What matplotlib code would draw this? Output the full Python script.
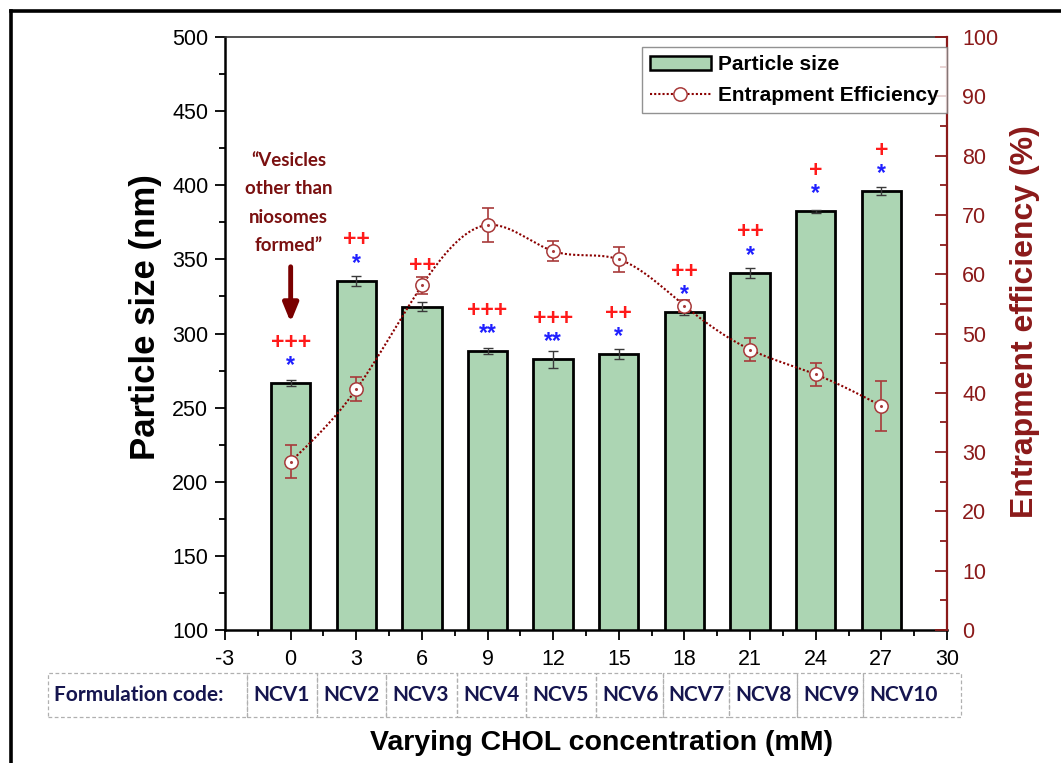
import numpy as np
import matplotlib
matplotlib.use("Agg")
import matplotlib.pyplot as plt
from matplotlib.patches import Rectangle
from matplotlib.lines import Line2D
from matplotlib import transforms
from matplotlib.ticker import MultipleLocator

plt.rcParams["font.family"] = ["Liberation Sans", "DejaVu Sans"]
plt.rcParams["axes.unicode_minus"] = False

# CHOL concentration (mM) for each formulation
chol = [0, 3, 6, 9, 12, 15, 18, 21, 24, 27]
codes = ["NCV1", "NCV2", "NCV3", "NCV4", "NCV5", "NCV6", "NCV7", "NCV8", "NCV9", "NCV10"]

size_nm = [266.5, 335.6, 318.2, 288.3, 282.7, 286.3, 314.5, 341.0, 382.5, 396.0]
size_err = [2.0, 3.5, 3.0, 2.0, 5.7, 3.5, 2.0, 3.4, 1.0, 2.8]

ee_pct = [28.4, 40.6, 58.1, 68.3, 63.9, 62.5, 54.7, 47.3, 43.1, 37.8]
ee_err = [2.8, 2.0, 1.4, 2.8, 1.7, 2.1, 1.0, 2.0, 1.9, 4.2]

plus_marks = ["+++", "++", "++", "+++", "+++", "++", "++", "++", "+", "+"]
star_marks = ["*", "*", "", "**", "**", "*", "*", "*", "*", "*"]

GREEN = "#acd5b3"
DARKRED = "#8b1a1a"
EE_RED = "#a83a3a"
NAVY = "#15154f"


def natural_spline(x, y, n=300):
    # natural cubic spline through the points, for the smoothed connector
    x = np.asarray(x, float)
    y = np.asarray(y, float)
    k = len(x)
    h = np.diff(x)
    A = np.zeros((k, k))
    b = np.zeros(k)
    A[0, 0] = A[-1, -1] = 1.0
    for i in range(1, k - 1):
        A[i, i - 1] = h[i - 1]
        A[i, i] = 2 * (h[i - 1] + h[i])
        A[i, i + 1] = h[i]
        b[i] = 6 * ((y[i + 1] - y[i]) / h[i] - (y[i] - y[i - 1]) / h[i - 1])
    M = np.linalg.solve(A, b)
    xs = np.linspace(x[0], x[-1], n)
    idx = np.clip(np.searchsorted(x, xs) - 1, 0, k - 2)
    x0, x1 = x[idx], x[idx + 1]
    hh = x1 - x0
    t0, t1 = x1 - xs, xs - x0
    ys = (M[idx] * t0 ** 3 + M[idx + 1] * t1 ** 3) / (6 * hh) \
        + (y[idx] / hh - M[idx] * hh / 6) * t0 \
        + (y[idx + 1] / hh - M[idx + 1] * hh / 6) * t1
    return xs, ys


fig = plt.figure(figsize=(10.61, 7.63), dpi=100)
ax = fig.add_axes([0.2121, 0.1743, 0.6804, 0.7772])
ax2 = ax.twinx()

# bars: particle size
ax.bar(chol, size_nm, width=1.8, color=GREEN, edgecolor="black", linewidth=2.0,
       zorder=2, label="Particle size")
ax.errorbar(chol, size_nm, yerr=size_err, fmt="none", ecolor="#3a3a3a",
            elinewidth=1.0, capsize=3.6, capthick=1.0, zorder=3)

# significance marks above each bar
for x, y, p, s in zip(chol, size_nm, plus_marks, star_marks):
    ax.annotate(p, (x, y), xytext=(0, 24.7), textcoords="offset points",
                ha="center", va="baseline", color="#ff1a1a", fontsize=16.5,
                fontweight="bold", zorder=4)
    if s:
        ax.annotate(s, (x, y), xytext=(0, 7.7), textcoords="offset points",
                    ha="center", va="baseline", color="#2020ff", fontsize=16.5,
                    fontweight="bold", zorder=4)

ax.set_xlim(-3, 30)
ax.set_ylim(100, 500)
ax.xaxis.set_major_locator(MultipleLocator(3))
ax.xaxis.set_minor_locator(MultipleLocator(1.5))
ax.yaxis.set_major_locator(MultipleLocator(50))
ax.yaxis.set_minor_locator(MultipleLocator(25))
ax.tick_params(axis="both", which="major", direction="out", length=7, width=1.3,
               labelsize=15.5, pad=5)
ax.tick_params(axis="x", which="major", pad=7)
ax.tick_params(axis="both", which="minor", direction="out", length=4.5, width=1.3)
ax.tick_params(axis="x", which="both", top=False)
ax.tick_params(axis="y", which="both", right=False)
for side in ("left", "bottom"):
    ax.spines[side].set_linewidth(1.8)
ax.spines["top"].set_color("#333333")
ax.spines["top"].set_linewidth(1.2)
ax.spines["right"].set_visible(False)

# entrapment efficiency line on the right axis
xs, ys = natural_spline(chol, ee_pct)
ax2.plot(xs, ys, color="#8b0000", linestyle=(0, (1, 1)), linewidth=1.5, zorder=2)
ax2.errorbar(chol, ee_pct, yerr=ee_err, fmt="none", ecolor=EE_RED,
             elinewidth=1.2, capsize=4.5, capthick=1.2, zorder=3)
ax2.plot(chol, ee_pct, linestyle="none", marker="o", markersize=9.6,
         markerfacecolor="white", markeredgecolor=EE_RED, markeredgewidth=1.1,
         zorder=4)
ax2.plot(chol, ee_pct, linestyle="none", marker="o", markersize=1.2,
         color=EE_RED, zorder=5)
ax2.set_ylim(0, 100)
ax2.yaxis.set_major_locator(MultipleLocator(10))
ax2.yaxis.set_minor_locator(MultipleLocator(5))
ax2.tick_params(axis="y", which="major", direction="in", length=8.5, width=1.3,
                colors=DARKRED, labelsize=15.5, pad=11)
ax2.tick_params(axis="y", which="minor", direction="in", length=5, width=1.3,
                colors=DARKRED)
ax2.spines["right"].set_color(DARKRED)
ax2.spines["right"].set_linewidth(1.6)
for side in ("left", "bottom", "top"):
    ax2.spines[side].set_visible(False)

# legend
handles = [
    Rectangle((0, 0), 1, 1, facecolor=GREEN, edgecolor="black", linewidth=1.8),
    Line2D([], [], color="#8b0000", linestyle=(0, (1, 1)), linewidth=1.5,
           marker="o", markersize=9.6, markerfacecolor="white",
           markeredgecolor=EE_RED, markeredgewidth=1.1),
]
leg = ax2.legend(handles, ["Particle size", "Entrapment Efficiency"],
                 loc="upper right", bbox_to_anchor=(1.0, 0.983),
                 prop={"weight": "bold", "size": 15.0}, frameon=True,
                 fancybox=False, handlelength=2.9, handletextpad=0.35,
                 borderpad=0.4, labelspacing=0.55, borderaxespad=0)
leg.get_frame().set_edgecolor("#777777")
leg.get_frame().set_linewidth(1.0)

# note about NCV1
ax.text(-0.1, 388, "\u201cVesicles\nother than\nniosomes\nformed\u201d",
        ha="center", va="center", color="#7a1010", fontsize=13.5,
        fontweight="bold", family=["Lato", "DejaVu Sans"], linespacing=1.8,
        zorder=5)
ax.annotate("", xy=(0, 307.5), xytext=(0, 345),
            arrowprops=dict(arrowstyle="-|>,head_length=1.1,head_width=0.45",
                            color="#7a0000", linewidth=3.5, shrinkA=0, shrinkB=0),
            zorder=5)

# axis titles
fig.text(145 / 1061, 1 - 317 / 763, "Particle size (nm)", rotation=90,
         ha="center", va="center", fontsize=25, fontweight="bold")
fig.text(1025 / 1061, 1 - 322 / 763, "Entrapment efficiency (%)", rotation=90,
         ha="center", va="center", fontsize=23, fontweight="bold", color=DARKRED)
fig.text(602 / 1061, 1 - 743 / 763, "Varying CHOL concentration (mM)",
         ha="center", va="center", fontsize=20.5, fontweight="bold")

# formulation code row under the x axis
cell_edges = [-11.09, -2.01, 1.22, 4.35, 7.62, 10.76, 13.96, 17.0, 20.05,
              23.13, 26.17, 30.64]
row_top, row_bot = 1 - 672.7 / 763, 1 - 717.3 / 763
trans = transforms.blended_transform_factory(ax.transData, fig.transFigure)
cell_text = ["Formulation code:"] + codes
for left, right, txt in zip(cell_edges[:-1], cell_edges[1:], cell_text):
    ax.add_patch(Rectangle((left, row_bot), right - left, row_top - row_bot,
                           transform=trans, fill=False, edgecolor="#b0b0b0",
                           linewidth=0.9, linestyle=(0, (3, 2)), clip_on=False))
    ax.annotate(txt, (left, (row_top + row_bot) / 2), xycoords=trans,
                xytext=(4.5, 0), textcoords="offset points", ha="left",
                va="center", color=NAVY, fontsize=15, fontweight="bold",
                family=["Lato", "DejaVu Sans"], annotation_clip=False)

# outer frame
fig.add_artist(Line2D([11 / 1061, 11 / 1061], [0, 1 - 11 / 763],
                      transform=fig.transFigure, color="black", linewidth=2.6))
fig.add_artist(Line2D([11 / 1061, 1], [1 - 11 / 763, 1 - 11 / 763],
                      transform=fig.transFigure, color="black", linewidth=2.6))

fig.savefig("out.png", dpi=100)
